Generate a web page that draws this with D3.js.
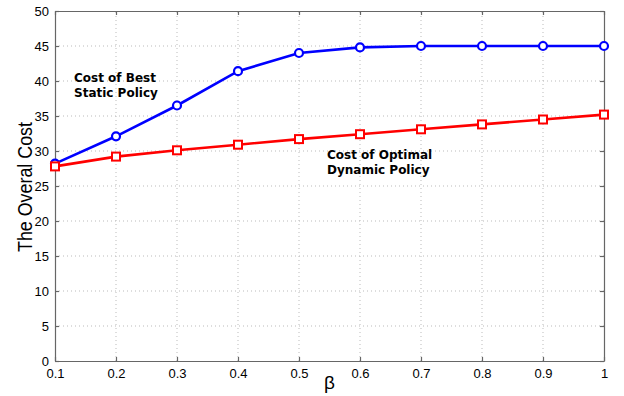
<!DOCTYPE html>
<html>
<head>
<meta charset="utf-8">
<script src="https://cdn.jsdelivr.net/npm/d3@7"></script>
<style>
  body { margin: 0; background: #fff; }
  .tick text { font-family: "Liberation Sans", Arial, sans-serif; font-size: 13px; fill: #000; }
  .note { font-family: "DejaVu Sans", sans-serif; font-size: 12px; font-weight: bold; }
</style>
</head>
<body>
<script>
const betas = [0.1, 0.2, 0.3, 0.4, 0.5, 0.6, 0.7, 0.8, 0.9, 1]
const staticCost = [28.2, 32.1, 36.5, 41.4, 44.0, 44.8, 45.0, 45.0, 45.0, 45.0]
const dynamicCost = [27.8, 29.2, 30.1, 30.9, 31.7, 32.4, 33.1, 33.8, 34.5, 35.2]
const yTicks = [0, 5, 10, 15, 20, 25, 30, 35, 40, 45, 50]

let width = 624, height = 396
let x0 = 55, x1 = 604, y0 = 361, y1 = 11

let svg = d3.select("body").append("svg")
	.attr("width", width)
	.attr("height", height)

let xScale = d3.scaleLinear().domain([0.1, 1]).range([x0, x1])
let yScale = d3.scaleLinear().domain([0, 50]).range([y0, y1])

// dotted grid
svg.append("g").selectAll("line")
	.data(betas.slice(1, -1))
	.enter().append("line")
		.attr("x1", d => xScale(d)).attr("x2", d => xScale(d))
		.attr("y1", y0).attr("y2", y1)
		.attr("stroke", "#bbb").attr("stroke-dasharray", "1,3")

svg.append("g").selectAll("line")
	.data(yTicks.slice(1, -1))
	.enter().append("line")
		.attr("x1", x0).attr("x2", x1)
		.attr("y1", d => yScale(d)).attr("y2", d => yScale(d))
		.attr("stroke", "#bbb").attr("stroke-dasharray", "1,3")

// axes, ticks pointing inward
let fmt = d => d === 1 ? "1" : d3.format(".1f")(d)
let xAxis = d3.axisBottom(xScale).tickValues(betas).tickFormat(fmt).tickSizeInner(-4).tickSizeOuter(0).tickPadding(8)
let xTop = d3.axisTop(xScale).tickValues(betas).tickFormat("").tickSizeInner(-4).tickSizeOuter(0)
let yAxis = d3.axisLeft(yScale).tickValues(yTicks).tickSizeInner(-4).tickSizeOuter(0).tickPadding(6)
let yRight = d3.axisRight(yScale).tickValues(yTicks).tickFormat("").tickSizeInner(-4).tickSizeOuter(0)

let axes = [
	[xAxis, "translate(0," + y0 + ")"],
	[xTop, "translate(0," + y1 + ")"],
	[yAxis, "translate(" + x0 + ",0)"],
	[yRight, "translate(" + x1 + ",0)"]
]
axes.forEach(a => {
	let g = svg.append("g").attr("transform", a[1]).call(a[0])
	g.selectAll("path, line").attr("stroke", "#666").attr("stroke-width", 1.2)
})

// lines
let line = d3.line().x((d, i) => xScale(betas[i])).y(d => yScale(d))

svg.append("path").datum(staticCost)
	.attr("d", line).attr("fill", "none")
	.attr("stroke", "#0000ff").attr("stroke-width", 2.6)

svg.append("path").datum(dynamicCost)
	.attr("d", line).attr("fill", "none")
	.attr("stroke", "#ff0000").attr("stroke-width", 2.6)

svg.append("g").selectAll("circle")
	.data(staticCost)
	.enter().append("circle")
		.attr("cx", (d, i) => xScale(betas[i]))
		.attr("cy", d => yScale(d))
		.attr("r", 4)
		.attr("fill", "#fff").attr("stroke", "#0000ff").attr("stroke-width", 2.2)

svg.append("g").selectAll("rect")
	.data(dynamicCost)
	.enter().append("rect")
		.attr("x", (d, i) => xScale(betas[i]) - 4)
		.attr("y", d => yScale(d) - 4)
		.attr("width", 8).attr("height", 8)
		.attr("fill", "#fff").attr("stroke", "#ff0000").attr("stroke-width", 2)

// annotations
let notes = [
	[74, 82, "Cost of Best"], [74, 97, "Static Policy"],
	[327, 159, "Cost of Optimal"], [327, 174, "Dynamic Policy"]
]
svg.selectAll("text.note")
	.data(notes)
	.enter().append("text")
		.attr("class", "note")
		.attr("x", d => d[0]).attr("y", d => d[1])
		.text(d => d[2])

// axis titles
svg.append("text")
	.attr("transform", "translate(32,252) rotate(-90)")
	.attr("textLength", 130)
	.attr("lengthAdjust", "spacingAndGlyphs")
	.style("font-family", "Liberation Sans, Arial, sans-serif")
	.style("font-size", "21px")
	.text("The Overal Cost")

svg.append("text")
	.attr("x", (x0 + x1) / 2).attr("y", 389)
	.attr("text-anchor", "middle")
	.style("font-family", "Liberation Sans, Arial, sans-serif")
	.style("font-size", "19px")
	.text("β")
</script>
</body>
</html>
